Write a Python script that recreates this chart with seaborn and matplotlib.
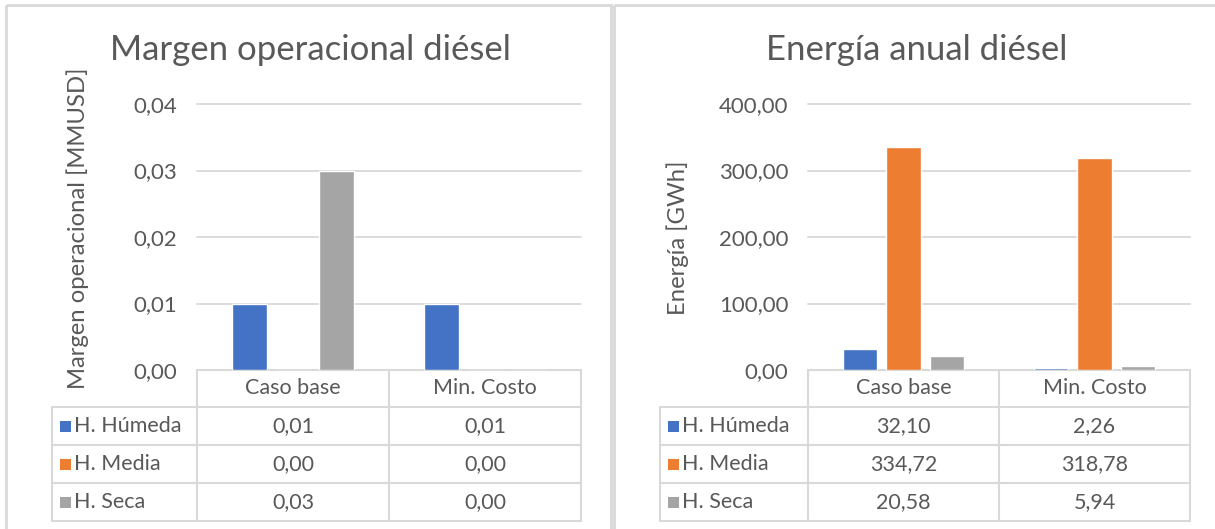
import matplotlib
matplotlib.use("Agg")
import matplotlib.pyplot as plt
import seaborn as sns
import pandas as pd
from matplotlib.patches import Rectangle

# ---- data -----------------------------------------------------------------
scenarios = ["Caso base", "Min. Costo"]
hydrologies = ["H. Húmeda", "H. Media", "H. Seca"]
colors = ["#4472C4", "#ED7D31", "#A5A5A5"]

margin_humeda = [0.01, 0.01]
margin_media = [0.00, 0.00]
margin_seca = [0.03, 0.00]
margin_ticks = [0.00, 0.01, 0.02, 0.03, 0.04]

energy_humeda = [32.10, 2.26]
energy_media = [334.72, 318.78]
energy_seca = [20.58, 5.94]
energy_ticks = [0, 100, 200, 300, 400]

# ---- style ----------------------------------------------------------------
sns.set_theme(style="white")
plt.rcParams["font.family"] = ["Lato", "DejaVu Sans"]
TXT = "#595959"
GRID = "#D9D9D9"
FS = 15.5

W, H = 1215, 529
fig = plt.figure(figsize=(W / 100, H / 100), dpi=100)
fig.patch.set_facecolor("white")

bg = fig.add_axes([0, 0, 1, 1], zorder=0)
bg.set_xlim(0, W)
bg.set_ylim(H, 0)
bg.axis("off")


def fmt(v):
    return f"{v:.2f}".replace(".", ",")


def long_frame(series):
    rows = []
    for hyd, vals in zip(hydrologies, series):
        for sc, v in zip(scenarios, vals):
            rows.append({"Escenario": sc, "Hidrología": hyd, "Valor": v})
    return pd.DataFrame(rows)


def panel(box, ax_left, ax_right, title, title_x, ylabel, ylabel_x, ylabel_y,
          series, ticks, label_left, tick_fmt):
    # panel frame
    bx, by, bw, bh = box
    bg.add_patch(Rectangle((bx, by), bw, bh, fill=False, ec=GRID, lw=2))

    y_top, y_zero = 104, 370
    ax = fig.add_axes([ax_left / W, 1 - y_zero / H,
                       (ax_right - ax_left) / W, (y_zero - y_top) / H], zorder=1)
    ax.patch.set_alpha(0)
    df = long_frame(series)
    sns.barplot(data=df, x="Escenario", y="Valor", hue="Hidrología",
                order=scenarios, hue_order=hydrologies, palette=colors,
                saturation=1, width=0.68, gap=0.21, legend=False, ax=ax,
                zorder=3, err_kws={"linewidth": 0})
    ax.set_xlim(-0.5, 1.5)
    ax.set_ylim(ticks[0], ticks[-1])
    ax.set_yticks(ticks)
    ax.set_yticklabels([tick_fmt(t) for t in ticks], color=TXT, fontsize=16)
    ax.tick_params(axis="y", length=0, pad=14)
    ax.set_xticks([])
    ax.set_xlabel("")
    ax.set_ylabel("")
    for s in ax.spines.values():
        s.set_visible(False)
    for t in ticks[1:]:
        ax.axhline(t, color=GRID, lw=1.3, zorder=1, clip_on=False)

    fig.text(title_x / W, 1 - 50 / H, title, ha="center", va="center",
             fontsize=25, color=TXT)
    fig.text(ylabel_x / W, 1 - ylabel_y / H, ylabel, ha="center", va="center",
             rotation=90, fontsize=17.2, color=TXT)

    # data table under the plot
    x_mid = ax_left + (ax_right - ax_left) / 2
    rows_y = [370, 407, 445, 483, 521]
    lc = dict(color=GRID, lw=1.5)
    for yy in rows_y[1:]:
        bg.plot([label_left, ax_right], [yy, yy], **lc)
    bg.plot([ax_left, ax_right], [370, 370], **lc)
    bg.plot([label_left, label_left], [407, 521], **lc)
    for xx in (ax_left, x_mid, ax_right):
        bg.plot([xx, xx], [370, 521], **lc)

    col_cx = [(ax_left + x_mid) / 2, (x_mid + ax_right) / 2]
    for cx, sc in zip(col_cx, scenarios):
        bg.text(cx, (rows_y[0] + rows_y[1]) / 2, sc, ha="center", va="center",
                fontsize=FS, color=TXT)
    for i, (hyd, col, vals) in enumerate(zip(hydrologies, colors, series)):
        cy = (rows_y[i + 1] + rows_y[i + 2]) / 2
        bg.add_patch(Rectangle((label_left + 8, cy - 5.5), 11, 11, color=col, lw=0))
        bg.text(label_left + 22, cy, hyd, ha="left", va="center",
                fontsize=FS, color=TXT)
        for cx, v in zip(col_cx, vals):
            bg.text(cx, cy, fmt(v), ha="center", va="center",
                    fontsize=FS, color=TXT)


panel((6, 5, 605, 560), 197, 581, "Margen operacional diésel", 310,
      "Margen operacional [MMUSD]", 78, 228,
      [margin_humeda, margin_media, margin_seca], margin_ticks, 52, fmt)

panel((614, 5, 620, 560), 808, 1190, "Energía anual diésel", 917,
      "Energía [GWh]", 678, 238,
      [energy_humeda, energy_media, energy_seca], energy_ticks, 660, fmt)

fig.savefig("out.png", dpi=100)
